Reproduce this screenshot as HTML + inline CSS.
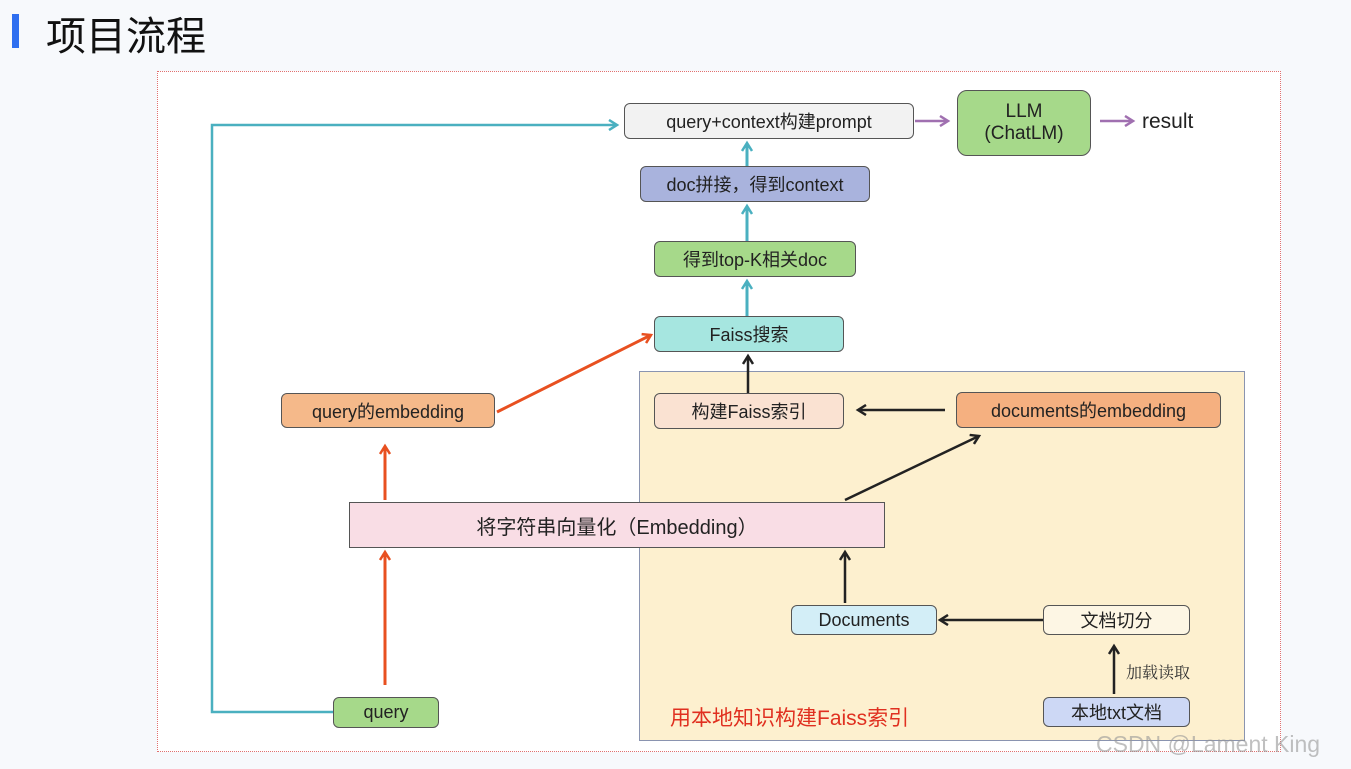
<!DOCTYPE html>
<html><head><meta charset="utf-8"><style>
body{margin:0;width:1351px;height:769px;background:#f7f9fc;position:relative;overflow:hidden;font-family:"Liberation Sans","Noto Sans CJK SC",sans-serif;}
.b{position:absolute;box-sizing:border-box;border:1.5px solid #555;border-radius:6px;display:flex;align-items:center;justify-content:center;text-align:center;font-size:18px;color:#222;}
</style></head><body>
<div style="position:absolute;left:12px;top:14px;width:7px;height:34px;background:#2f6ff0"></div>
<div style="position:absolute;left:46px;top:4px;font-size:40px;color:#111;font-family:'Noto Sans CJK SC',sans-serif">项目流程</div>
<div style="position:absolute;left:157px;top:71px;width:1124px;height:681px;border:1.5px dotted #e07070;box-sizing:border-box;background:#fff"></div>
<div style="position:absolute;left:639px;top:371px;width:606px;height:370px;background:#fdf0cf;border:1.5px solid #8a94b0;box-sizing:border-box"></div>
<div class="b" style="left:624px;top:103px;width:290px;height:36px;background:#f2f2f2">query+context构建prompt</div>
<div class="b" style="left:957px;top:90px;width:134px;height:66px;background:#a6d98a;border-radius:10px;line-height:22px;font-size:19px">LLM<br>(ChatLM)</div>
<div style="position:absolute;left:1142px;top:110px;font-size:21px;color:#222">result</div>
<div class="b" style="left:640px;top:166px;width:230px;height:36px;background:#a9b3dd">doc拼接，得到context</div>
<div class="b" style="left:654px;top:241px;width:202px;height:36px;background:#a6d98a">得到top-K相关doc</div>
<div class="b" style="left:654px;top:316px;width:190px;height:36px;background:#a6e6e0">Faiss搜索</div>
<div class="b" style="left:281px;top:393px;width:214px;height:35px;background:#f5b98a">query的embedding</div>
<div class="b" style="left:654px;top:393px;width:190px;height:36px;background:#fae2d2">构建Faiss索引</div>
<div class="b" style="left:956px;top:392px;width:265px;height:36px;background:#f5b080">documents的embedding</div>
<div class="b" style="left:349px;top:502px;width:536px;height:46px;background:#f9dde5;border-radius:0;font-size:20px">将字符串向量化（Embedding）</div>
<div class="b" style="left:791px;top:605px;width:146px;height:30px;background:#d3eef7">Documents</div>
<div class="b" style="left:1043px;top:605px;width:147px;height:30px;background:#fdf6e4">文档切分</div>
<div class="b" style="left:1043px;top:697px;width:147px;height:30px;background:#cdd8f5">本地txt文档</div>
<div class="b" style="left:333px;top:697px;width:106px;height:31px;background:#a6d98a">query</div>
<div style="position:absolute;left:1126px;top:660px;font-size:16px;color:#333;font-family:'Noto Serif CJK SC',serif">加载读取</div>
<div style="position:absolute;left:670px;top:702px;font-size:21px;color:#e03020">用本地知识构建Faiss索引</div>
<div style="position:absolute;left:1096px;top:731px;font-size:23px;color:rgba(150,150,150,0.6)">CSDN @Lament King</div>
<svg width="1351" height="769" style="position:absolute;left:0;top:0">
<defs>
<marker id="t" markerWidth="12" markerHeight="12" refX="9" refY="6" orient="auto" markerUnits="userSpaceOnUse"><path d="M1,1 L9,6 L1,11" fill="none" stroke="#4ab0c0" stroke-width="2.5"/></marker>
<marker id="r" markerWidth="12" markerHeight="12" refX="9" refY="6" orient="auto" markerUnits="userSpaceOnUse"><path d="M1,1 L9,6 L1,11" fill="none" stroke="#e85020" stroke-width="2.5"/></marker>
<marker id="k" markerWidth="12" markerHeight="12" refX="9" refY="6" orient="auto" markerUnits="userSpaceOnUse"><path d="M1,1 L9,6 L1,11" fill="none" stroke="#222" stroke-width="2.5"/></marker>
<marker id="p" markerWidth="12" markerHeight="12" refX="9" refY="6" orient="auto" markerUnits="userSpaceOnUse"><path d="M1,1 L9,6 L1,11" fill="none" stroke="#a070b0" stroke-width="2.5"/></marker>
</defs>
<g fill="none" stroke-width="2.5">
<path d="M333,712 H212 V125 H617" stroke="#4ab0c0" marker-end="url(#t)"/>
<path d="M747,241 V206" stroke="#4ab0c0" stroke-width="3" marker-end="url(#t)"/>
<path d="M747,166 V143" stroke="#4ab0c0" stroke-width="3" marker-end="url(#t)"/>
<path d="M747,316 V281" stroke="#4ab0c0" stroke-width="3" marker-end="url(#t)"/>
<path d="M385,685 V552" stroke="#e85020" stroke-width="3" marker-end="url(#r)"/>
<path d="M385,500 V446" stroke="#e85020" stroke-width="3" marker-end="url(#r)"/>
<path d="M497,412 L651,335" stroke="#e85020" stroke-width="3" marker-end="url(#r)"/>
<path d="M748,393 V356" stroke="#222" marker-end="url(#k)"/>
<path d="M945,410 H858" stroke="#222" marker-end="url(#k)"/>
<path d="M845,500 L979,436" stroke="#222" marker-end="url(#k)"/>
<path d="M845,603 V552" stroke="#222" marker-end="url(#k)"/>
<path d="M1043,620 H940" stroke="#222" marker-end="url(#k)"/>
<path d="M1114,694 V646" stroke="#222" marker-end="url(#k)"/>
<path d="M915,121 H948" stroke="#a070b0" marker-end="url(#p)"/>
<path d="M1100,121 H1133" stroke="#a070b0" marker-end="url(#p)"/>
</g></svg>
</body></html>
